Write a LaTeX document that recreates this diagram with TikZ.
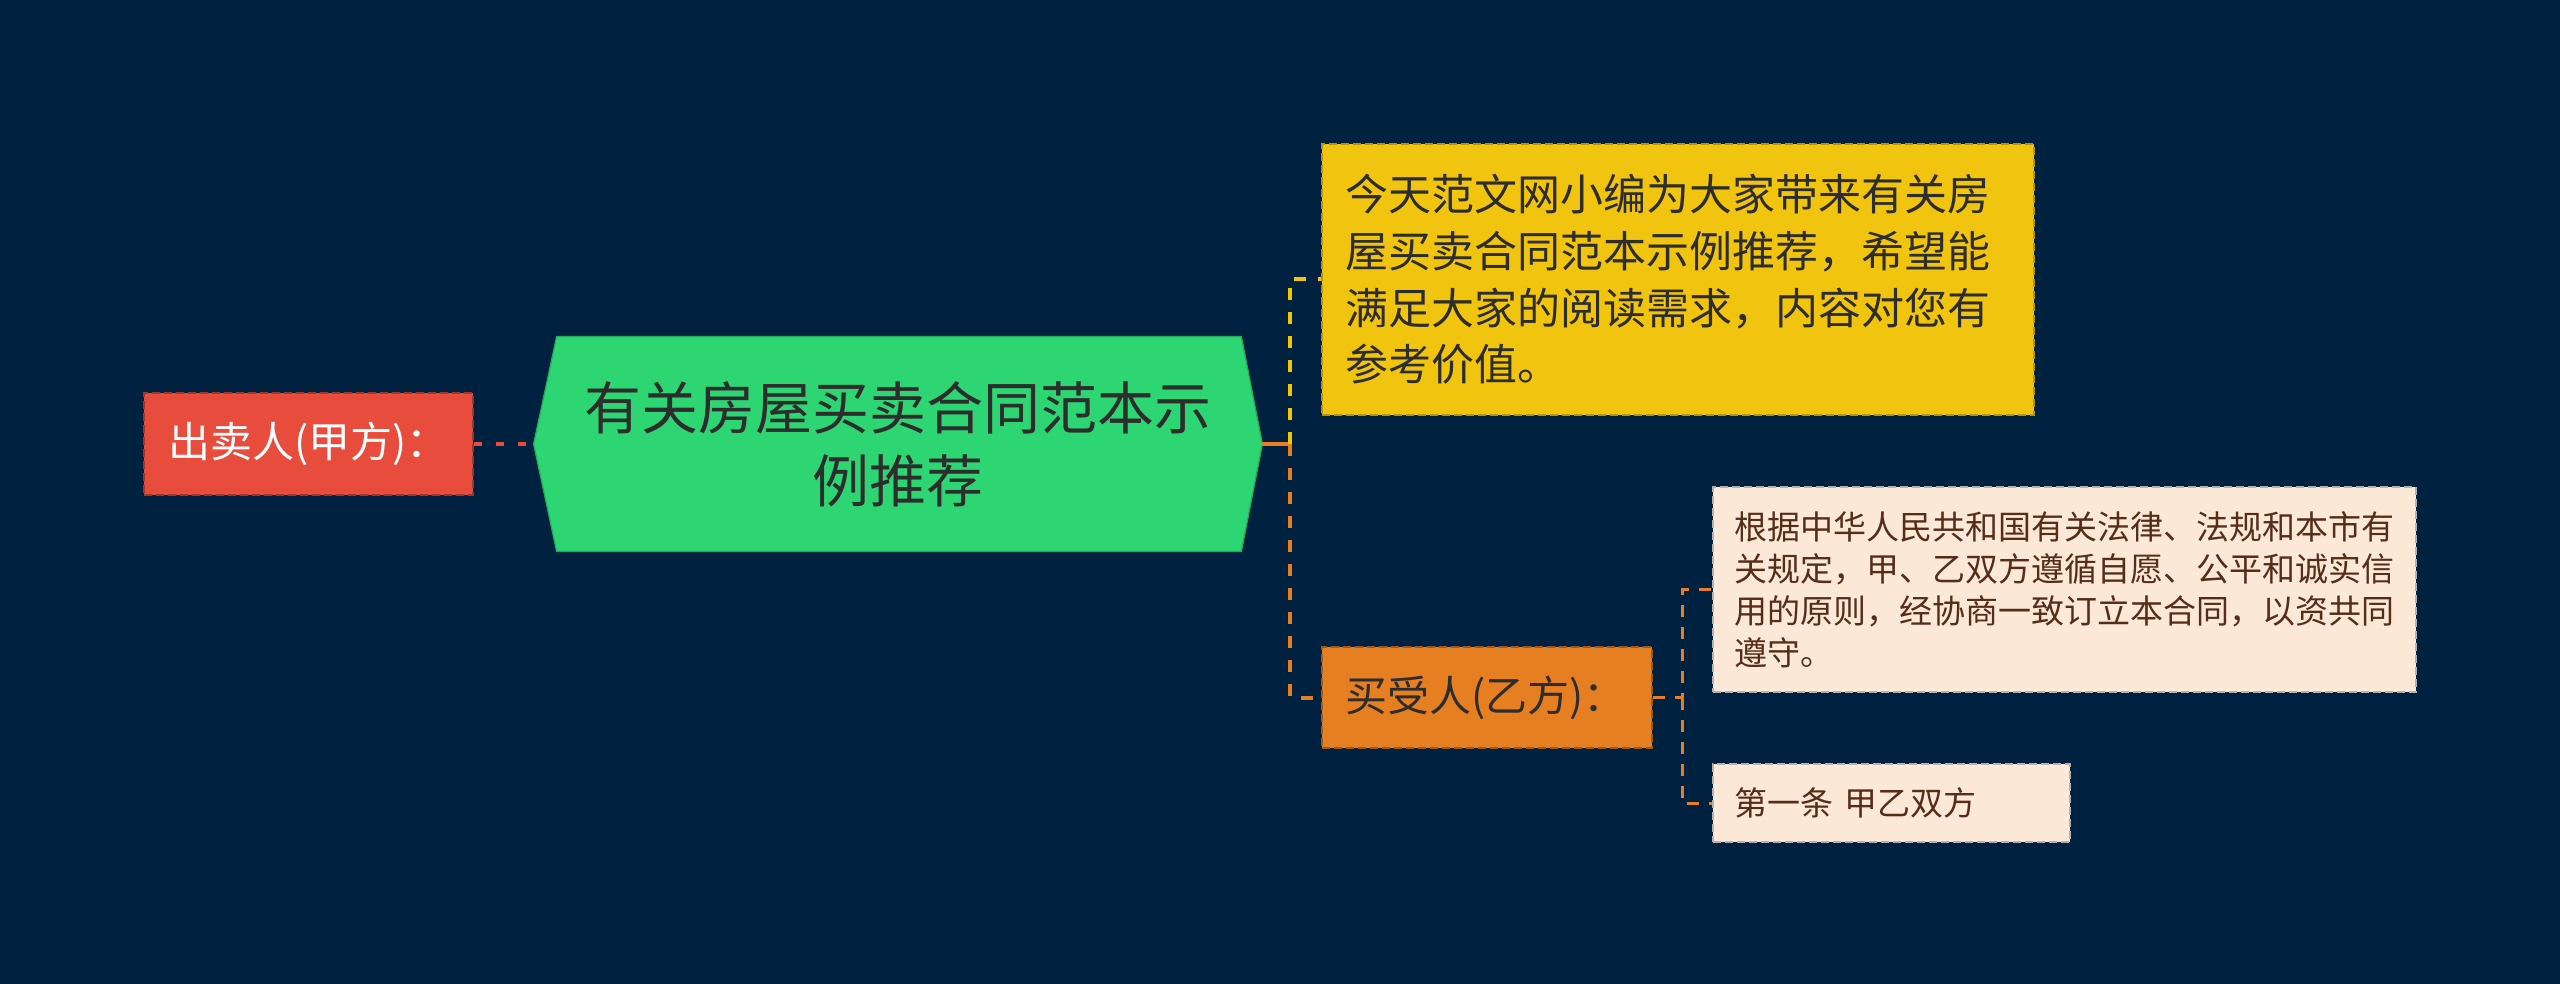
\documentclass[tikz,border=0pt]{standalone}
\usepackage{fontspec}
\newfontfamily\cjk{Noto Sans CJK SC}
\usetikzlibrary{backgrounds}
\definecolor{bgc}{RGB}{1,33,64}
\definecolor{cred}{RGB}{231,76,60}
\definecolor{cgreen}{RGB}{46,213,115}
\definecolor{cyellow}{RGB}{241,196,15}
\definecolor{corange}{RGB}{230,126,34}
\definecolor{clight}{RGB}{252,232,214}
\definecolor{cdark}{RGB}{45,45,45}
\definecolor{cbrown}{RGB}{85,45,25}
\tikzset{
  basebox/.style={rectangle, inner ysep=0pt, align=left, dashed, dash pattern=on 4pt off 2pt, line width=0.8pt},
  redbox/.style={basebox, fill=cred, draw=cred!70!black, text=white, minimum width=164.5pt, minimum height=51pt, inner xsep=12pt, text width=140.5pt, font=\cjk\fontsize{21}{27}\selectfont},
  orangebox/.style={basebox, fill=corange, draw=corange!70!black, text=cdark, minimum width=165pt, minimum height=50.5pt, inner xsep=11.5pt, text width=142pt, font=\cjk\fontsize{21}{27}\selectfont},
  yellowbox/.style={basebox, fill=cyellow, draw=cyellow!75!black, text=cdark, minimum width=356pt, minimum height=135.5pt, inner xsep=11.5pt, text width=333pt, font=\cjk\fontsize{21.5}{28.3}\selectfont},
  lightbox/.style={basebox, fill=clight, draw=gray!60, text=cbrown, inner xsep=10.5pt, font=\cjk\fontsize{16.5}{21}\selectfont},
  rootbox/.style={rectangle, inner sep=0pt, minimum width=364pt, minimum height=107pt, align=center, text=cdark, font=\cjk\fontsize{28.5}{36.7}\selectfont},
  link/.style={line width=2pt, dash pattern=on 6pt off 6pt},
  sublink/.style={line width=1.5pt, dash pattern=on 6pt off 5pt},
}
\begin{document}
\begin{tikzpicture}[x=0.5pt,y=-0.5pt]
\useasboundingbox (0,0) rectangle (2560,984);
\node[rootbox] (root) at (898,444) {有关房屋买卖合同范本示\\例推荐};
\begin{scope}[on background layer]
  \fill[bgc] (0,0) rectangle (2560,984);
  \fill[cgreen, draw=cgreen!80!black, line width=0.6pt]
    ([xshift=11.5pt]root.north west) -- ([xshift=-10.5pt]root.north east) -- (root.east)
    -- ([xshift=-10.5pt]root.south east) -- ([xshift=11.5pt]root.south west) -- (root.west) -- cycle;
\end{scope}
\node[redbox] (seller) at (308.5,444) {出卖人(甲方)：};
\node[yellowbox] (intro) at (1678,279.5) {今天范文网小编为大家带来有关房\\屋买卖合同范本示例推荐，希望能\\满足大家的阅读需求，内容对您有\\参考价值。};
\node[orangebox] (buyer) at (1487,697.5) {买受人(乙方)：};
\node[lightbox, minimum width=351.5pt, minimum height=102.5pt, text width=330.5pt] (basis) at (2064.5,589.5) {根据中华人民共和国有关法律、法规和本市有\\关规定，甲、乙双方遵循自愿、公平和诚实信\\用的原则，经协商一致订立本合同，以资共同\\遵守。};
\node[lightbox, minimum width=178.5pt, minimum height=39pt, text width=157.5pt] (art1) at (1891.5,803) {第一条 甲乙双方};
\coordinate (j1) at (1290,444);
\coordinate (j2) at (1682,697.5);
\draw[line width=2pt, dash pattern=on 4pt off 7pt, cred] (seller.east) -- (root.west);
\draw[line width=2pt, corange] (root.east) -- (j1);
\draw[link, cyellow] (j1) |- (intro.west);
\draw[link, corange] (j1) |- (buyer.west);
\draw[sublink, corange] (buyer.east) -- (j2) |- (basis.west);
\draw[sublink, corange] (j2) |- (art1.west);
\end{tikzpicture}
\end{document}
